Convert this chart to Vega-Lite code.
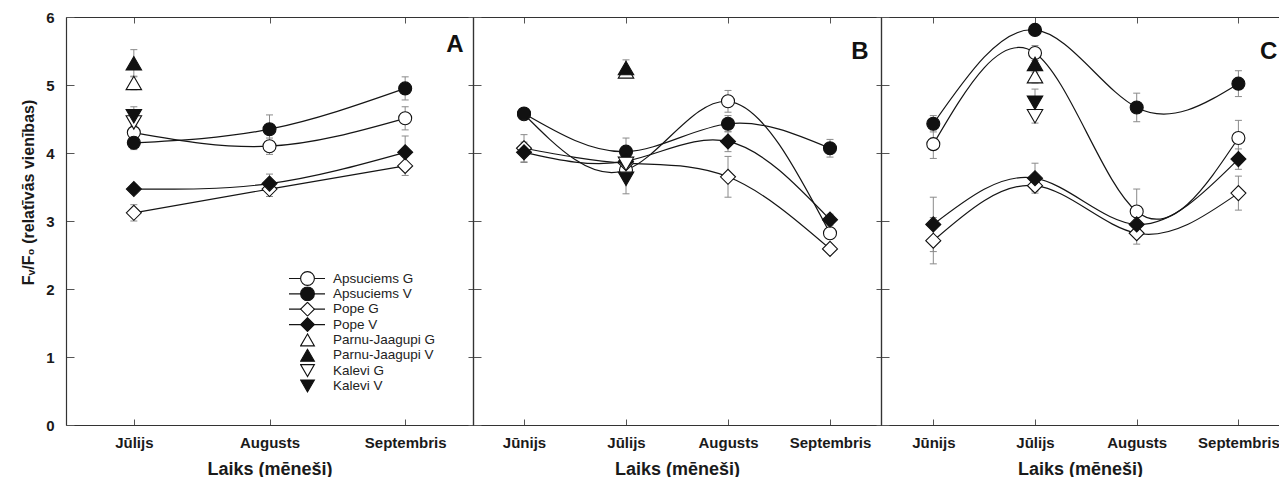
{
 "$schema": "https://vega.github.io/schema/vega-lite/v6.json",
 "padding": {"left": 20, "top": 10, "right": 0, "bottom": 0},
 "background": "white",
 "spacing": 0,
 "bounds": "flush",
 "config": {
  "font": "Liberation Sans",
  "view": {"stroke": null},
  "axis": {"grid": false, "domainColor": "#333", "domainWidth": 1.2, "tickColor": "#555", "tickWidth": 1, "labelFont": "Liberation Sans", "labelFontWeight": "bold", "labelFontSize": 15, "labelColor": "#1a1a1a", "titleFont": "Liberation Sans", "titleFontWeight": "bold", "titleColor": "#1a1a1a"},
  "title": {"font": "Liberation Sans", "fontWeight": "bold", "fontSize": 24, "color": "#111", "anchor": "end", "baseline": "alphabetic", "offset": -47}
 },
 "data": {"values": [
  {"p":"A","s":"Apsuciems G","m":"Jūlijs","mi":2,"v":4.30,"lo":4.22,"hi":4.38},
  {"p":"A","s":"Apsuciems G","m":"Augusts","mi":3,"v":4.10,"lo":3.98,"hi":4.22},
  {"p":"A","s":"Apsuciems G","m":"Septembris","mi":4,"v":4.51,"lo":4.34,"hi":4.68},
  {"p":"A","s":"Apsuciems V","m":"Jūlijs","mi":2,"v":4.15,"lo":4.05,"hi":4.25},
  {"p":"A","s":"Apsuciems V","m":"Augusts","mi":3,"v":4.35,"lo":4.14,"hi":4.56},
  {"p":"A","s":"Apsuciems V","m":"Septembris","mi":4,"v":4.95,"lo":4.78,"hi":5.12},
  {"p":"A","s":"Pope G","m":"Jūlijs","mi":2,"v":3.12,"lo":3.00,"hi":3.24},
  {"p":"A","s":"Pope G","m":"Augusts","mi":3,"v":3.47,"lo":3.36,"hi":3.58},
  {"p":"A","s":"Pope G","m":"Septembris","mi":4,"v":3.81,"lo":3.67,"hi":3.95},
  {"p":"A","s":"Pope V","m":"Jūlijs","mi":2,"v":3.47,"lo":3.41,"hi":3.53},
  {"p":"A","s":"Pope V","m":"Augusts","mi":3,"v":3.55,"lo":3.41,"hi":3.69},
  {"p":"A","s":"Pope V","m":"Septembris","mi":4,"v":4.01,"lo":3.77,"hi":4.25},
  {"p":"A","s":"Parnu-Jaagupi G","m":"Jūlijs","mi":2,"v":5.03,"lo":4.93,"hi":5.13},
  {"p":"A","s":"Parnu-Jaagupi V","m":"Jūlijs","mi":2,"v":5.32,"lo":5.12,"hi":5.52},
  {"p":"A","s":"Kalevi G","m":"Jūlijs","mi":2,"v":4.45,"lo":4.35,"hi":4.55},
  {"p":"A","s":"Kalevi V","m":"Jūlijs","mi":2,"v":4.54,"lo":4.40,"hi":4.68},
  {"p":"B","s":"Apsuciems G","m":"Jūnijs","mi":1,"v":4.57,"lo":4.52,"hi":4.62},
  {"p":"B","s":"Apsuciems G","m":"Jūlijs","mi":2,"v":3.75,"lo":3.65,"hi":3.85},
  {"p":"B","s":"Apsuciems G","m":"Augusts","mi":3,"v":4.76,"lo":4.60,"hi":4.92},
  {"p":"B","s":"Apsuciems G","m":"Septembris","mi":4,"v":2.82,"lo":2.74,"hi":2.90},
  {"p":"B","s":"Apsuciems V","m":"Jūnijs","mi":1,"v":4.58,"lo":4.53,"hi":4.63},
  {"p":"B","s":"Apsuciems V","m":"Jūlijs","mi":2,"v":4.02,"lo":3.82,"hi":4.22},
  {"p":"B","s":"Apsuciems V","m":"Augusts","mi":3,"v":4.43,"lo":4.31,"hi":4.55},
  {"p":"B","s":"Apsuciems V","m":"Septembris","mi":4,"v":4.07,"lo":3.94,"hi":4.20},
  {"p":"B","s":"Pope G","m":"Jūnijs","mi":1,"v":4.07,"lo":3.87,"hi":4.27},
  {"p":"B","s":"Pope G","m":"Jūlijs","mi":2,"v":3.85,"lo":3.75,"hi":3.95},
  {"p":"B","s":"Pope G","m":"Augusts","mi":3,"v":3.65,"lo":3.35,"hi":3.95},
  {"p":"B","s":"Pope G","m":"Septembris","mi":4,"v":2.59,"lo":2.54,"hi":2.64},
  {"p":"B","s":"Pope V","m":"Jūnijs","mi":1,"v":4.01,"lo":3.86,"hi":4.16},
  {"p":"B","s":"Pope V","m":"Jūlijs","mi":2,"v":3.88,"lo":3.78,"hi":3.98},
  {"p":"B","s":"Pope V","m":"Augusts","mi":3,"v":4.17,"lo":4.02,"hi":4.32},
  {"p":"B","s":"Pope V","m":"Septembris","mi":4,"v":3.02,"lo":2.94,"hi":3.10},
  {"p":"B","s":"Parnu-Jaagupi G","m":"Jūlijs","mi":2,"v":5.20,"lo":5.15,"hi":5.25},
  {"p":"B","s":"Parnu-Jaagupi V","m":"Jūlijs","mi":2,"v":5.25,"lo":5.13,"hi":5.37},
  {"p":"B","s":"Kalevi G","m":"Jūlijs","mi":2,"v":3.84,"lo":3.74,"hi":3.94},
  {"p":"B","s":"Kalevi V","m":"Jūlijs","mi":2,"v":3.62,"lo":3.40,"hi":3.84},
  {"p":"C","s":"Apsuciems G","m":"Jūnijs","mi":1,"v":4.13,"lo":3.92,"hi":4.34},
  {"p":"C","s":"Apsuciems G","m":"Jūlijs","mi":2,"v":5.47,"lo":5.36,"hi":5.58},
  {"p":"C","s":"Apsuciems G","m":"Augusts","mi":3,"v":3.14,"lo":2.81,"hi":3.47},
  {"p":"C","s":"Apsuciems G","m":"Septembris","mi":4,"v":4.22,"lo":3.96,"hi":4.48},
  {"p":"C","s":"Apsuciems V","m":"Jūnijs","mi":1,"v":4.43,"lo":4.31,"hi":4.55},
  {"p":"C","s":"Apsuciems V","m":"Jūlijs","mi":2,"v":5.81,"lo":5.76,"hi":5.86},
  {"p":"C","s":"Apsuciems V","m":"Augusts","mi":3,"v":4.67,"lo":4.46,"hi":4.88},
  {"p":"C","s":"Apsuciems V","m":"Septembris","mi":4,"v":5.02,"lo":4.83,"hi":5.21},
  {"p":"C","s":"Pope G","m":"Jūnijs","mi":1,"v":2.71,"lo":2.37,"hi":3.05},
  {"p":"C","s":"Pope G","m":"Jūlijs","mi":2,"v":3.52,"lo":3.44,"hi":3.60},
  {"p":"C","s":"Pope G","m":"Augusts","mi":3,"v":2.82,"lo":2.66,"hi":2.98},
  {"p":"C","s":"Pope G","m":"Septembris","mi":4,"v":3.41,"lo":3.16,"hi":3.66},
  {"p":"C","s":"Pope V","m":"Jūnijs","mi":1,"v":2.95,"lo":2.55,"hi":3.35},
  {"p":"C","s":"Pope V","m":"Jūlijs","mi":2,"v":3.63,"lo":3.41,"hi":3.85},
  {"p":"C","s":"Pope V","m":"Augusts","mi":3,"v":2.95,"lo":2.85,"hi":3.05},
  {"p":"C","s":"Pope V","m":"Septembris","mi":4,"v":3.91,"lo":3.76,"hi":4.06},
  {"p":"C","s":"Parnu-Jaagupi G","m":"Jūlijs","mi":2,"v":5.13,"lo":5.03,"hi":5.23},
  {"p":"C","s":"Parnu-Jaagupi V","m":"Jūlijs","mi":2,"v":5.31,"lo":5.19,"hi":5.43},
  {"p":"C","s":"Kalevi G","m":"Jūlijs","mi":2,"v":4.54,"lo":4.44,"hi":4.64},
  {"p":"C","s":"Kalevi V","m":"Jūlijs","mi":2,"v":4.74,"lo":4.54,"hi":4.94}
 ]},
 "hconcat": [
  {
   "width": 407, "height": 408,
   "title": {"text": "A", "dx": -10},
   "transform": [{"filter": "datum.p === 'A'"}],
   "resolve": {"axis": {"x": "independent", "y": "independent"}},
   "layer": [
    {"mark": {"type": "rule", "color": "#8a8a8a", "strokeWidth": 1},
     "encoding": {
      "x": {"field": "m", "type": "ordinal", "scale": {"type": "point", "domain": ["Jūlijs","Augusts","Septembris"], "padding": 0.5}, "axis": {"orient": "bottom", "tickSize": -6, "labelPadding": 16, "labelAngle": 0, "title": "Laiks (mēneši)", "titleFontSize": 18, "titlePadding": 10}},
      "y": {"field": "lo", "type": "quantitative", "scale": {"domain": [0, 6]}, "axis": {"orient": "left", "values": [0,1,2,3,4,5,6], "tickSize": -8, "labelPadding": 20, "title": "Fᵥ/F₀ (relatīvās vienības)", "titleFontSize": 16, "titlePadding": 9, "titleY": 175}},
      "y2": {"field": "hi"}}},
    {"mark": {"type": "tick", "color": "#8a8a8a", "size": 7, "thickness": 1, "opacity": 1},
     "encoding": {
      "x": {"field": "m", "type": "ordinal", "scale": {"type": "point", "domain": ["Jūlijs","Augusts","Septembris"], "padding": 0.5}, "axis": null},
      "y": {"field": "lo", "type": "quantitative", "scale": {"domain": [0, 6]}, "axis": null}}},
    {"mark": {"type": "tick", "color": "#8a8a8a", "size": 7, "thickness": 1, "opacity": 1},
     "encoding": {
      "x": {"field": "m", "type": "ordinal", "scale": {"type": "point", "domain": ["Jūlijs","Augusts","Septembris"], "padding": 0.5}, "axis": null},
      "y": {"field": "hi", "type": "quantitative", "scale": {"domain": [0, 6]}, "axis": null}}},
    {"transform": [{"filter": "indexof(datum.s, 'Apsuciems') === 0 || indexof(datum.s, 'Pope') === 0"}],
     "mark": {"type": "line", "interpolate": "natural", "strokeWidth": 1.2},
     "encoding": {
      "x": {"field": "m", "type": "ordinal", "scale": {"type": "point", "domain": ["Jūlijs","Augusts","Septembris"], "padding": 0.5}, "axis": null},
      "y": {"field": "v", "type": "quantitative", "scale": {"domain": [0, 6]}, "axis": null},
      "color": {"field": "s", "type": "nominal", "scale": {"domain": ["Apsuciems G","Apsuciems V","Pope G","Pope V"], "range": ["#151515","#151515","#151515","#151515"]},
       "legend": {"orient": "none", "legendX": 222, "legendY": 254, "title": null, "padding": 0, "labelFontSize": 13.5, "labelExpr": "''", "labelOffset": 2, "clipHeight": 15, "rowPadding": 0.35, "symbolType": "stroke", "symbolSize": 1296, "symbolStrokeWidth": 1.2}},
      "order": {"field": "mi"}}},
    {"transform": [{"filter": "indexof(datum.s, 'Apsuciems') === 0"}],
     "mark": {"type": "point", "filled": true, "stroke": "#111", "strokeWidth": 1.1, "opacity": 1, "size": 169},
     "encoding": {
      "x": {"field": "m", "type": "ordinal", "scale": {"type": "point", "domain": ["Jūlijs","Augusts","Septembris"], "padding": 0.5}, "axis": null},
      "y": {"field": "v", "type": "quantitative", "scale": {"domain": [0, 6]}, "axis": null},
      "shape": {"field": "s", "type": "nominal", "scale": {"domain": ["Apsuciems G","Apsuciems V","Pope G","Pope V","Parnu-Jaagupi G","Parnu-Jaagupi V","Kalevi G","Kalevi V"], "range": ["circle","circle","diamond","diamond","triangle-up","triangle-up","triangle-down","triangle-down"]},
       "legend": {"orient": "none", "legendX": 234, "legendY": 254, "title": null, "padding": 0, "labelFontSize": 13.5, "labelColor": "#222", "labelOffset": 18, "clipHeight": 15, "rowPadding": 0.35, "symbolStrokeWidth": 1.1, "symbolSize": 190}},
      "fill": {"field": "s", "type": "nominal", "scale": {"domain": ["Apsuciems G","Apsuciems V","Pope G","Pope V","Parnu-Jaagupi G","Parnu-Jaagupi V","Kalevi G","Kalevi V"], "range": ["white","#111","white","#111","white","#111","white","#111"]},
       "legend": {"orient": "none", "legendX": 234, "legendY": 254, "title": null, "padding": 0, "labelFontSize": 13.5, "labelColor": "#222", "labelOffset": 18, "clipHeight": 15, "rowPadding": 0.35, "symbolStrokeWidth": 1.1, "symbolSize": 190}}}},
    {"transform": [{"filter": "indexof(datum.s, 'Pope') === 0"}],
     "mark": {"type": "point", "filled": true, "stroke": "#111", "strokeWidth": 1.1, "opacity": 1, "size": 225},
     "encoding": {
      "x": {"field": "m", "type": "ordinal", "scale": {"type": "point", "domain": ["Jūlijs","Augusts","Septembris"], "padding": 0.5}, "axis": null},
      "y": {"field": "v", "type": "quantitative", "scale": {"domain": [0, 6]}, "axis": null},
      "shape": {"field": "s", "type": "nominal"},
      "fill": {"field": "s", "type": "nominal"}}},
    {"transform": [{"filter": "indexof(datum.s, 'Parnu') === 0 || indexof(datum.s, 'Kalevi') === 0"}],
     "mark": {"type": "point", "filled": true, "stroke": "#111", "strokeWidth": 1.1, "opacity": 1, "size": 240},
     "encoding": {
      "x": {"field": "m", "type": "ordinal", "scale": {"type": "point", "domain": ["Jūlijs","Augusts","Septembris"], "padding": 0.5}, "axis": null},
      "y": {"field": "v", "type": "quantitative", "scale": {"domain": [0, 6]}, "axis": null},
      "shape": {"field": "s", "type": "nominal"},
      "fill": {"field": "s", "type": "nominal"}}},
    {"mark": {"type": "point", "opacity": 0},
     "encoding": {
      "x": {"field": "m", "type": "ordinal", "scale": {"type": "point", "domain": ["Jūlijs","Augusts","Septembris"], "padding": 0.5}, "axis": {"orient": "top", "labels": false, "title": null, "tickSize": -6}},
      "y": {"field": "v", "type": "quantitative", "scale": {"domain": [0, 6]}, "axis": {"orient": "right", "labels": false, "title": null, "tickSize": -5, "values": [0,1,2,3,4,5,6]}}}}
   ]
  },
  {
   "width": 408, "height": 408,
   "title": {"text": "B", "dx": -13},
   "transform": [{"filter": "datum.p === 'B'"}],
   "resolve": {"axis": {"x": "independent", "y": "independent"}},
   "layer": [
    {"mark": {"type": "rule", "color": "#8a8a8a", "strokeWidth": 1},
     "encoding": {
      "x": {"field": "m", "type": "ordinal", "scale": {"type": "point", "domain": ["Jūnijs","Jūlijs","Augusts","Septembris"], "padding": 0.5}, "axis": {"orient": "bottom", "tickSize": -6, "labelPadding": 16, "labelAngle": 0, "title": "Laiks (mēneši)", "titleFontSize": 18, "titlePadding": 10}},
      "y": {"field": "lo", "type": "quantitative", "scale": {"domain": [0, 6]}, "axis": {"orient": "left", "values": [0,1,2,3,4,5,6], "tickSize": -8, "labels": false, "title": null}},
      "y2": {"field": "hi"}}},
    {"mark": {"type": "tick", "color": "#8a8a8a", "size": 7, "thickness": 1, "opacity": 1},
     "encoding": {
      "x": {"field": "m", "type": "ordinal", "scale": {"type": "point", "domain": ["Jūnijs","Jūlijs","Augusts","Septembris"], "padding": 0.5}, "axis": null},
      "y": {"field": "lo", "type": "quantitative", "scale": {"domain": [0, 6]}, "axis": null}}},
    {"mark": {"type": "tick", "color": "#8a8a8a", "size": 7, "thickness": 1, "opacity": 1},
     "encoding": {
      "x": {"field": "m", "type": "ordinal", "scale": {"type": "point", "domain": ["Jūnijs","Jūlijs","Augusts","Septembris"], "padding": 0.5}, "axis": null},
      "y": {"field": "hi", "type": "quantitative", "scale": {"domain": [0, 6]}, "axis": null}}},
    {"transform": [{"filter": "indexof(datum.s, 'Apsuciems') === 0 || indexof(datum.s, 'Pope') === 0"}],
     "mark": {"type": "line", "interpolate": "natural", "strokeWidth": 1.2},
     "encoding": {
      "x": {"field": "m", "type": "ordinal", "scale": {"type": "point", "domain": ["Jūnijs","Jūlijs","Augusts","Septembris"], "padding": 0.5}, "axis": null},
      "y": {"field": "v", "type": "quantitative", "scale": {"domain": [0, 6]}, "axis": null},
      "color": {"field": "s", "type": "nominal", "legend": null},
      "order": {"field": "mi"}}},
    {"transform": [{"filter": "indexof(datum.s, 'Apsuciems') === 0"}],
     "mark": {"type": "point", "filled": true, "stroke": "#111", "strokeWidth": 1.1, "opacity": 1, "size": 169},
     "encoding": {
      "x": {"field": "m", "type": "ordinal", "scale": {"type": "point", "domain": ["Jūnijs","Jūlijs","Augusts","Septembris"], "padding": 0.5}, "axis": null},
      "y": {"field": "v", "type": "quantitative", "scale": {"domain": [0, 6]}, "axis": null},
      "shape": {"field": "s", "type": "nominal"},
      "fill": {"field": "s", "type": "nominal"}}},
    {"transform": [{"filter": "indexof(datum.s, 'Pope') === 0"}],
     "mark": {"type": "point", "filled": true, "stroke": "#111", "strokeWidth": 1.1, "opacity": 1, "size": 225},
     "encoding": {
      "x": {"field": "m", "type": "ordinal", "scale": {"type": "point", "domain": ["Jūnijs","Jūlijs","Augusts","Septembris"], "padding": 0.5}, "axis": null},
      "y": {"field": "v", "type": "quantitative", "scale": {"domain": [0, 6]}, "axis": null},
      "shape": {"field": "s", "type": "nominal"},
      "fill": {"field": "s", "type": "nominal"}}},
    {"transform": [{"filter": "indexof(datum.s, 'Parnu') === 0 || indexof(datum.s, 'Kalevi') === 0"}],
     "mark": {"type": "point", "filled": true, "stroke": "#111", "strokeWidth": 1.1, "opacity": 1, "size": 240},
     "encoding": {
      "x": {"field": "m", "type": "ordinal", "scale": {"type": "point", "domain": ["Jūnijs","Jūlijs","Augusts","Septembris"], "padding": 0.5}, "axis": null},
      "y": {"field": "v", "type": "quantitative", "scale": {"domain": [0, 6]}, "axis": null},
      "shape": {"field": "s", "type": "nominal"},
      "fill": {"field": "s", "type": "nominal"}}},
    {"mark": {"type": "point", "opacity": 0},
     "encoding": {
      "x": {"field": "m", "type": "ordinal", "scale": {"type": "point", "domain": ["Jūnijs","Jūlijs","Augusts","Septembris"], "padding": 0.5}, "axis": {"orient": "top", "labels": false, "title": null, "tickSize": -6}},
      "y": {"field": "v", "type": "quantitative", "scale": {"domain": [0, 6]}, "axis": {"orient": "right", "labels": false, "title": null, "tickSize": -5, "values": [0,1,2,3,4,5,6]}}}}
   ]
  },
  {
   "width": 398, "height": 408,
   "title": {"text": "C", "dx": -2},
   "transform": [{"filter": "datum.p === 'C'"}],
   "resolve": {"axis": {"x": "independent", "y": "independent"}},
   "layer": [
    {"mark": {"type": "rule", "color": "#8a8a8a", "strokeWidth": 1},
     "encoding": {
      "x": {"field": "m", "type": "ordinal", "scale": {"type": "point", "domain": ["Jūnijs","Jūlijs","Augusts","Septembris"], "padding": 0.4567, "align": 0.563}, "axis": {"orient": "bottom", "tickSize": -6, "labelPadding": 16, "labelAngle": 0, "title": "Laiks (mēneši)", "titleFontSize": 18, "titlePadding": 10}},
      "y": {"field": "lo", "type": "quantitative", "scale": {"domain": [0, 6]}, "axis": {"orient": "left", "values": [0,1,2,3,4,5,6], "tickSize": -8, "labels": false, "title": null}},
      "y2": {"field": "hi"}}},
    {"mark": {"type": "tick", "color": "#8a8a8a", "size": 7, "thickness": 1, "opacity": 1},
     "encoding": {
      "x": {"field": "m", "type": "ordinal", "scale": {"type": "point", "domain": ["Jūnijs","Jūlijs","Augusts","Septembris"], "padding": 0.4567, "align": 0.563}, "axis": null},
      "y": {"field": "lo", "type": "quantitative", "scale": {"domain": [0, 6]}, "axis": null}}},
    {"mark": {"type": "tick", "color": "#8a8a8a", "size": 7, "thickness": 1, "opacity": 1},
     "encoding": {
      "x": {"field": "m", "type": "ordinal", "scale": {"type": "point", "domain": ["Jūnijs","Jūlijs","Augusts","Septembris"], "padding": 0.4567, "align": 0.563}, "axis": null},
      "y": {"field": "hi", "type": "quantitative", "scale": {"domain": [0, 6]}, "axis": null}}},
    {"transform": [{"filter": "indexof(datum.s, 'Apsuciems') === 0 || indexof(datum.s, 'Pope') === 0"}],
     "mark": {"type": "line", "interpolate": "natural", "strokeWidth": 1.2},
     "encoding": {
      "x": {"field": "m", "type": "ordinal", "scale": {"type": "point", "domain": ["Jūnijs","Jūlijs","Augusts","Septembris"], "padding": 0.4567, "align": 0.563}, "axis": null},
      "y": {"field": "v", "type": "quantitative", "scale": {"domain": [0, 6]}, "axis": null},
      "color": {"field": "s", "type": "nominal", "legend": null},
      "order": {"field": "mi"}}},
    {"transform": [{"filter": "indexof(datum.s, 'Apsuciems') === 0"}],
     "mark": {"type": "point", "filled": true, "stroke": "#111", "strokeWidth": 1.1, "opacity": 1, "size": 169},
     "encoding": {
      "x": {"field": "m", "type": "ordinal", "scale": {"type": "point", "domain": ["Jūnijs","Jūlijs","Augusts","Septembris"], "padding": 0.4567, "align": 0.563}, "axis": null},
      "y": {"field": "v", "type": "quantitative", "scale": {"domain": [0, 6]}, "axis": null},
      "shape": {"field": "s", "type": "nominal"},
      "fill": {"field": "s", "type": "nominal"}}},
    {"transform": [{"filter": "indexof(datum.s, 'Pope') === 0"}],
     "mark": {"type": "point", "filled": true, "stroke": "#111", "strokeWidth": 1.1, "opacity": 1, "size": 225},
     "encoding": {
      "x": {"field": "m", "type": "ordinal", "scale": {"type": "point", "domain": ["Jūnijs","Jūlijs","Augusts","Septembris"], "padding": 0.4567, "align": 0.563}, "axis": null},
      "y": {"field": "v", "type": "quantitative", "scale": {"domain": [0, 6]}, "axis": null},
      "shape": {"field": "s", "type": "nominal"},
      "fill": {"field": "s", "type": "nominal"}}},
    {"transform": [{"filter": "indexof(datum.s, 'Parnu') === 0 || indexof(datum.s, 'Kalevi') === 0"}],
     "mark": {"type": "point", "filled": true, "stroke": "#111", "strokeWidth": 1.1, "opacity": 1, "size": 240},
     "encoding": {
      "x": {"field": "m", "type": "ordinal", "scale": {"type": "point", "domain": ["Jūnijs","Jūlijs","Augusts","Septembris"], "padding": 0.4567, "align": 0.563}, "axis": null},
      "y": {"field": "v", "type": "quantitative", "scale": {"domain": [0, 6]}, "axis": null},
      "shape": {"field": "s", "type": "nominal"},
      "fill": {"field": "s", "type": "nominal"}}},
    {"mark": {"type": "point", "opacity": 0},
     "encoding": {
      "x": {"field": "m", "type": "ordinal", "scale": {"type": "point", "domain": ["Jūnijs","Jūlijs","Augusts","Septembris"], "padding": 0.4567, "align": 0.563}, "axis": {"orient": "top", "labels": false, "title": null, "tickSize": -6}},
      "y": {"field": "v", "type": "quantitative", "scale": {"domain": [0, 6]}, "axis": null}}}
   ]
  }
 ]
}
